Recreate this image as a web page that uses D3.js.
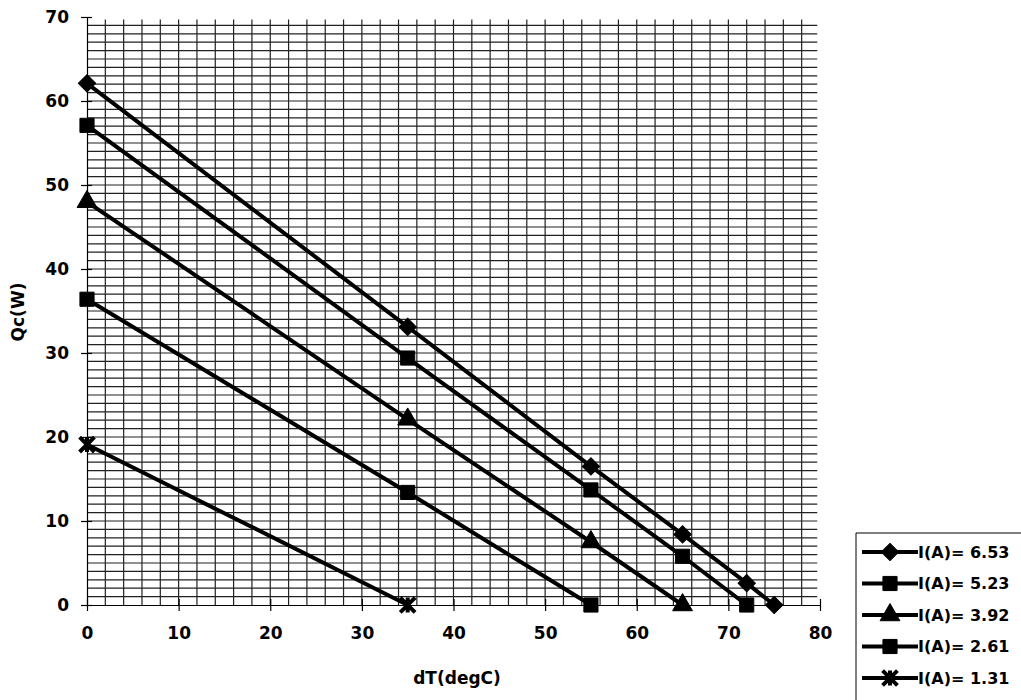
<!DOCTYPE html>
<html>
<head>
<meta charset="utf-8">
<script src="https://cdn.jsdelivr.net/npm/d3@7"></script>
<style>
  body { margin: 0; background: #fff; }
</style>
</head>
<body>
<svg width="1021" height="700" font-family="DejaVu Sans, sans-serif" font-weight="bold" font-size="17"></svg>
<script>
  // data
  const dT = [0, 35, 55, 65, 72, 75];
  const seriesNames = ['I(A)= 6.53', 'I(A)= 5.23', 'I(A)= 3.92', 'I(A)= 2.61', 'I(A)= 1.31'];
  const qc653 = [62.1, 33.1, 16.5, 8.4, 2.6, 0];
  const qc523 = [57.1, 29.4, 13.7, 5.8, 0];
  const qc392 = [48.0, 22.1, 7.5, 0];
  const qc261 = [36.4, 13.4, 0];
  const qc131 = [19.1, 0];
  const xTicks = [0, 10, 20, 30, 40, 50, 60, 70, 80];
  const yTicks = [0, 10, 20, 30, 40, 50, 60, 70];

  const svg = d3.select('svg');
  const margin = { top: 17, left: 87 };
  const innerWidth = 733;
  const innerHeight = 588;

  const xScale = d3.scaleLinear().domain([0, 80]).range([0, innerWidth]);
  const yScale = d3.scaleLinear().domain([0, 70]).range([innerHeight, 0]);

  const g = svg.append('g')
    .attr('transform', `translate(${margin.left},${margin.top})`);

  // gridlines: horizontal every 1, vertical every 2
  g.append('g').selectAll('line').data(d3.range(1, 70))
    .enter().append('line')
      .attr('x1', 0).attr('x2', xScale(79.7))
      .attr('y1', d => yScale(d)).attr('y2', d => yScale(d))
      .attr('stroke', '#222').attr('stroke-width', 1.2);
  g.append('g').selectAll('line').data(d3.range(2, 80, 2))
    .enter().append('line')
      .attr('x1', d => xScale(d)).attr('x2', d => xScale(d))
      .attr('y1', innerHeight).attr('y2', yScale(69.7))
      .attr('stroke', '#222').attr('stroke-width', 1.2);

  // axes with crossing ticks
  const yAxisG = g.append('g').call(d3.axisLeft(yScale).tickValues(yTicks).tickSizeInner(6).tickSizeOuter(0).tickPadding(12));
  yAxisG.selectAll('.tick line').attr('x1', 5);
  const xAxisG = g.append('g').attr('transform', `translate(0,${innerHeight})`)
    .call(d3.axisBottom(xScale).tickValues(xTicks).tickSizeInner(6).tickSizeOuter(0).tickPadding(16));
  xAxisG.selectAll('.tick line').attr('y1', -6);
  [yAxisG, xAxisG].forEach(a => a
    .attr('font-family', 'DejaVu Sans, sans-serif')
    .attr('font-weight', 'bold')
    .attr('font-size', 17));
  svg.selectAll('.domain').attr('stroke', '#000').attr('stroke-width', 1.2);
  svg.selectAll('.tick line').attr('stroke', '#000').attr('stroke-width', 1.2);
  svg.selectAll('.tick text').attr('fill', '#000');

  // axis titles
  svg.append('text').attr('x', 457).attr('y', 684)
    .attr('text-anchor', 'middle').text('dT(degC)');
  svg.append('text').attr('transform', 'translate(24,312) rotate(-90)')
    .attr('text-anchor', 'middle').text('Qc(W)');

  // marker shapes
  const asterisk = {
    draw(ctx, size) {
      const r = Math.sqrt(size) / 2;
      ctx.moveTo(-r, -r); ctx.lineTo(r, r);
      ctx.moveTo(-r, r); ctx.lineTo(r, -r);
      ctx.moveTo(0, -r); ctx.lineTo(0, r);
    }
  };
  const series = [
    { name: seriesNames[0], values: qc653, shape: d3.symbolSquare, size: 150, rot: 45, stroke: false },
    { name: seriesNames[1], values: qc523, shape: d3.symbolSquare, size: 200, rot: 0, stroke: false },
    { name: seriesNames[2], values: qc392, shape: d3.symbolTriangle, size: 170, rot: 0, stroke: false },
    { name: seriesNames[3], values: qc261, shape: d3.symbolSquare, size: 200, rot: 0, stroke: false },
    { name: seriesNames[4], values: qc131, shape: asterisk, size: 220, rot: 0, stroke: true }
  ];

  const line = d3.line().x(d => xScale(d.x)).y(d => yScale(d.y));

  const drawMarker = (sel, s) => {
    sel.attr('d', d3.symbol().type(s.shape).size(s.size)())
      .attr('fill', s.stroke ? 'none' : '#000')
      .attr('stroke', '#000')
      .attr('stroke-width', s.stroke ? 4 : 1);
  };

  series.forEach(s => {
    const pts = s.values.map((v, i) => ({ x: dT[i], y: v }));
    g.append('path').datum(pts).attr('d', line)
      .attr('fill', 'none').attr('stroke', '#000').attr('stroke-width', 4);
    g.selectAll(null).data(pts).enter().append('path')
      .attr('transform', d => `translate(${xScale(d.x)},${yScale(d.y)}) rotate(${s.rot})`)
      .call(drawMarker, s);
  });

  // legend (its right and bottom edges run off the page in the original)
  const legend = svg.append('g');
  legend.append('path').attr('d', 'M856,700V533H1021')
    .attr('fill', 'none').attr('stroke', '#000').attr('stroke-width', 1);
  series.forEach((s, i) => {
    const y = 552 + i * 31.5;
    legend.append('line').attr('x1', 862).attr('x2', 918).attr('y1', y).attr('y2', y)
      .attr('stroke', '#000').attr('stroke-width', 4);
    legend.append('path').attr('transform', `translate(890,${y}) rotate(${s.rot})`).call(drawMarker, s);
    legend.append('text').attr('x', 918).attr('y', y).attr('dy', '0.36em')
      .attr('font-size', 16).text(s.name);
  });
</script>
</body>
</html>
